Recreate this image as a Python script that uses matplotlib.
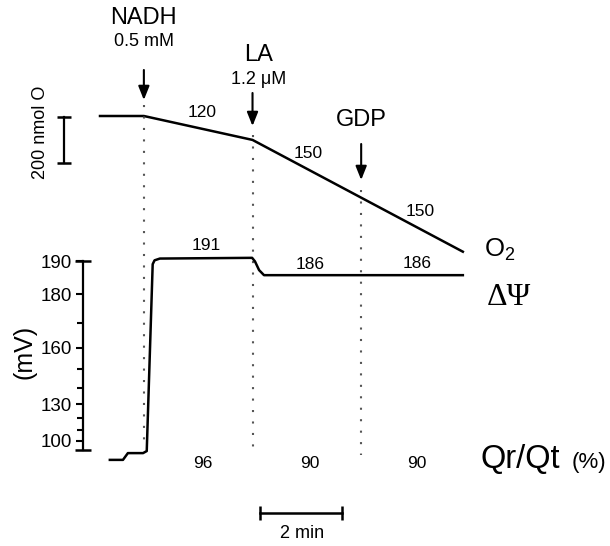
import numpy as np
import matplotlib
matplotlib.use('Agg')
import matplotlib.pyplot as plt
from matplotlib.transforms import blended_transform_factory

plt.rcParams['font.family'] = ['Liberation Sans', 'DejaVu Sans']
plt.rcParams['mathtext.default'] = 'regular'

# additions (time in min)
events = ['NADH', 'LA', 'GDP']
doses = ['0.5 mM', '1.2 \u03bcM', '']
event_t = [1.07, 3.72, 6.37]

# O2 trace, nmol O relative to start
o2_t = [0.0, 1.07, 3.72, 8.85]
o2_nmol = [0, 0, -104, -590]
o2_rates = ['120', '150', '150']

# membrane potential trace, mV
psi_t = [0.24, 0.56, 0.68, 1.05, 1.14, 1.285, 1.33, 1.46, 3.71, 3.78, 3.88, 4.0, 8.85]
psi_mv = [77, 77, 86, 86, 88.5, 189.2, 190.3, 190.8, 191, 190, 187.5, 186, 186]
psi_vals = ['191', '186', '186']

# Qr/Qt (%)
qr_vals = ['96', '90', '90']

psi_major = [100, 130, 160, 180, 190]
psi_minor = [110, 120, 140, 150, 170]


# layout helpers (pixel positions of the original figure)
def tx(px):
    return (px - 100) / 41.0


def fy(py):
    return 1 - py / 546.0


fig = plt.figure(figsize=(6.1, 5.46), dpi=100)
ax = fig.add_axes([0, 0, 1, 1])
ax.set_xlim(tx(0), tx(610))
ax.set_ylim((116 - 546) / 0.23, 116 / 0.23)
ax.axis('off')
bl = blended_transform_factory(ax.transData, fig.transFigure)

# O2 trace
ax.plot(o2_t, o2_nmol, color='k', lw=1.8)
# 200 nmol O calibration bar
ax.plot([tx(64), tx(64)], [-5, -205], color='k', lw=1.6, marker='_', ms=10, mew=1.8)
ax.text(tx(41), fy(132), '200 nmol O', rotation=90, ha='center', va='center',
        fontsize=13, transform=bl)

# additions: arrows, labels, dotted lines
arrow_px = [(70, 100), (93, 126), (144, 180)]
name_py = [18, 55, 120]
dose_py = [42, 80, None]
name_dx = [0, 6, 0]
dot_py = [(105, 448), (135, 452), (190, 455)]
for i, t in enumerate(event_t):
    a0, a1 = arrow_px[i]
    ax.annotate('', xy=(t, fy(a1)), xytext=(t, fy(a0)), xycoords=bl, textcoords=bl,
                arrowprops=dict(arrowstyle='-|>,head_length=0.55,head_width=0.22',
                                color='k', lw=1.5, mutation_scale=15, shrinkA=0, shrinkB=0))
    ax.text(t + name_dx[i] / 41.0, fy(name_py[i]), events[i], ha='center', va='center',
            fontsize=17, transform=bl)
    if doses[i]:
        ax.text(t + name_dx[i] / 41.0, fy(dose_py[i]), doses[i], ha='center', va='center',
                fontsize=13, transform=bl)
    d0, d1 = dot_py[i]
    ax.plot([t, t], [fy(d0), fy(d1)], transform=bl, color='#555555', lw=1.5,
            ls=(0, (1, 4.5)))

for s, px, py in zip(o2_rates, [202, 308, 420], [113, 153, 212]):
    ax.text(tx(px), fy(py), s, ha='center', va='center', fontsize=12.5, transform=bl)

# membrane potential axes
ax2 = fig.add_axes([0, fy(480), 1, 240 / 546.0])
ax2.set_yscale('function', functions=(lambda v: np.exp(np.asarray(v) / 70.0),
                                       lambda f: 70.0 * np.log(np.clip(f, 1e-300, None))))
ax2.set_ylim(40.3, 195.8)
ax2.set_xlim(tx(0), tx(610))
ax2.patch.set_visible(False)
for side in ['top', 'right', 'bottom']:
    ax2.spines[side].set_visible(False)
ax2.spines['left'].set_position(('data', tx(83)))
ax2.spines['left'].set_bounds(90, 190)
ax2.spines['left'].set_linewidth(1.6)
ax2.set_xticks([])
ax2.set_yticks(psi_major)
ax2.set_yticklabels([str(v) for v in psi_major])
ax2.set_yticks(psi_minor, minor=True)
ax2.yaxis.set_minor_formatter(plt.NullFormatter())
ax2.tick_params(axis='y', which='major', length=5, width=1.5, labelsize=13.5, pad=3)
ax2.tick_params(axis='y', which='minor', length=4.5, width=1.5)
ax2.plot([tx(83), tx(83)], [90, 190], ls='none', marker='_', ms=11, mew=1.8,
         color='k', clip_on=False)
ax2.plot(psi_t, psi_mv, color='k', lw=1.8)
ax2.text(tx(25), fy(352), '(mV)', rotation=90, ha='center', va='center', fontsize=18,
         transform=bl)

for s, px, py in zip(psi_vals, [206, 310, 417], [245, 264, 263]):
    ax.text(tx(px), fy(py), s, ha='center', va='center', fontsize=12.5, transform=bl)
for s, px in zip(qr_vals, [203, 310, 417]):
    ax.text(tx(px), fy(463), s, ha='center', va='center', fontsize=12.5, transform=bl)

# trace labels
ax.text(tx(484), fy(257), 'O$_2$', ha='left', va='baseline', fontsize=18.5, transform=bl)
ax.text(tx(487), fy(305), '\u0394\u03a8', ha='left', va='baseline', fontsize=23,
        family=['Liberation Serif', 'DejaVu Serif'], transform=bl)
ax.text(tx(481), fy(468), 'Qr/Qt', ha='left', va='baseline', fontsize=23.5, transform=bl)
ax.text(tx(572), fy(468), '(%)', ha='left', va='baseline', fontsize=16, transform=bl)

# 2 min time bar
ax.plot([tx(260), tx(260) + 2], [fy(513), fy(513)], transform=bl, color='k', lw=1.8,
        marker='|', ms=10, mew=1.8)
ax.text(tx(302), fy(533), '2 min', ha='center', va='center', fontsize=13, transform=bl)

fig.savefig('out.png', dpi=100)
